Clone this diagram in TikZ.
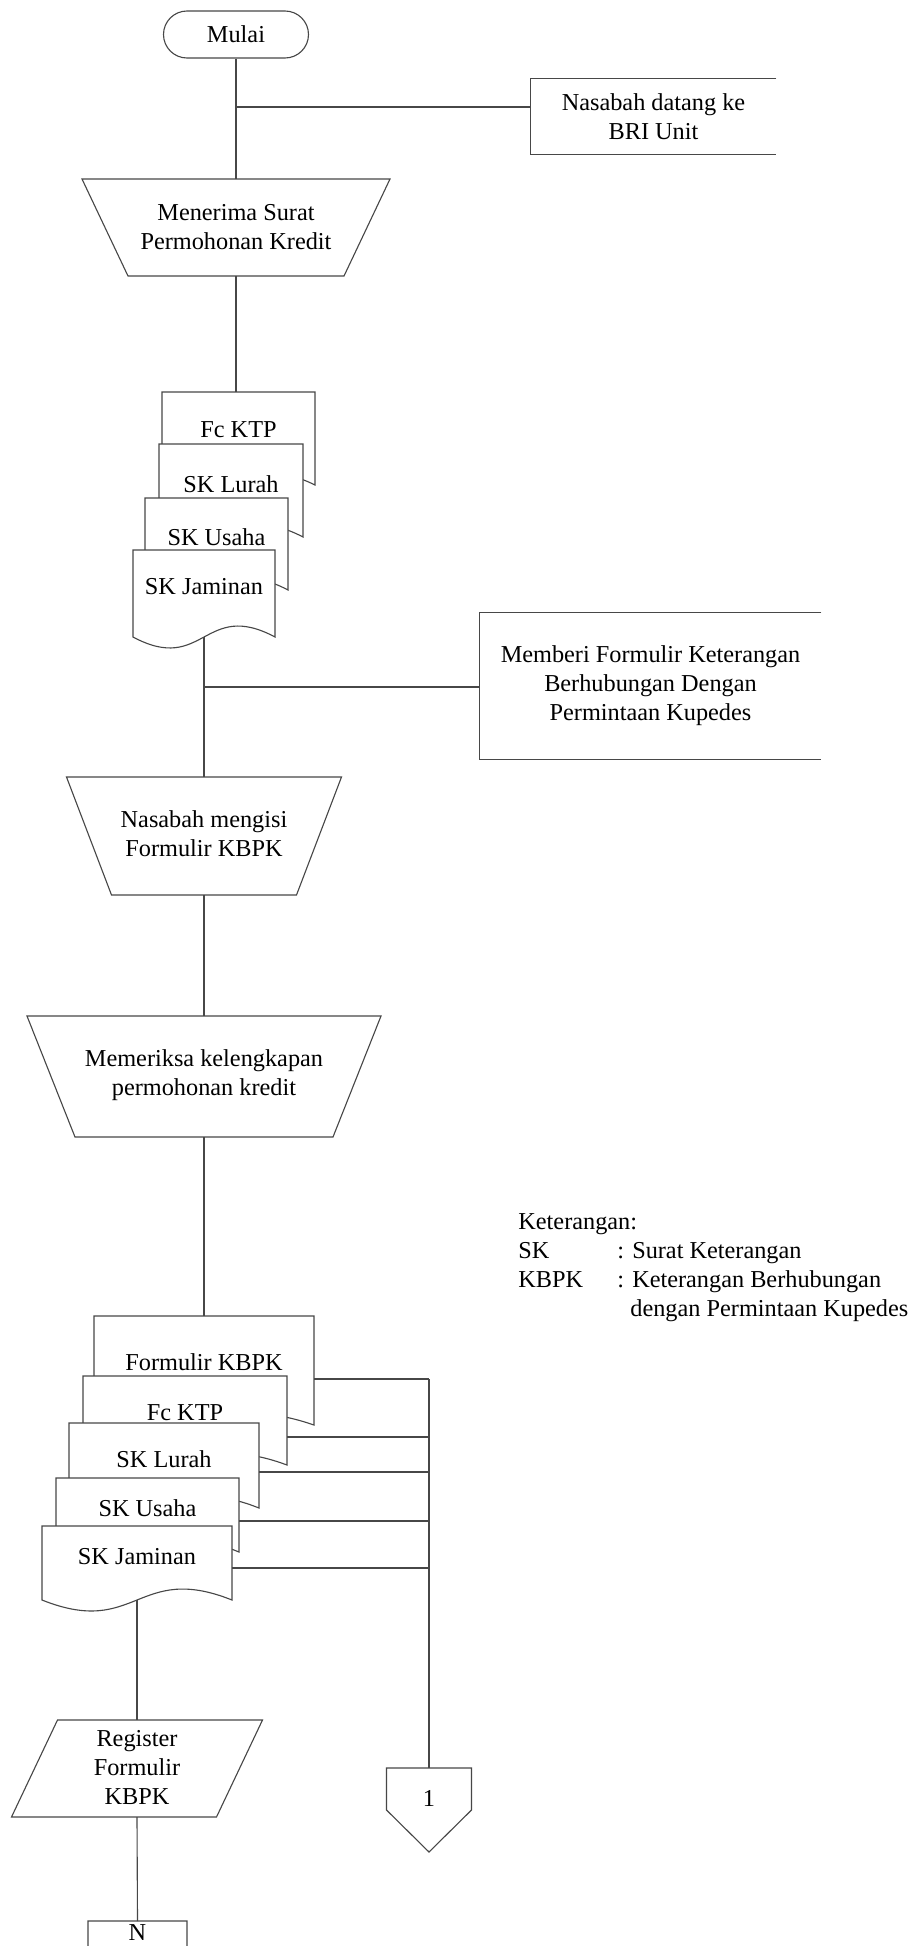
\documentclass[tikz,border=0pt]{standalone}
\usepackage{fontspec}
\setmainfont{Liberation Serif}
\usetikzlibrary{calc,shapes.misc}

% document symbol with a wavy lower edge; #1 name, #2 left, #3 right,
% #4 top, #5 bottom corners, #6 label height, #7 label
\newcommand\docsheet[7]{%
  \path[docln] (#2,#4) -- (#3,#4) -- (#3,#5)
    .. controls ({(#2+#3)/2},{#5-38}) and ({(#2+#3)/2},{#5+38}) .. (#2,#5) -- cycle;
  \node[lbl] (#1) at ({(#2+#3)/2},#6) {#7};
  \coordinate (#1-top) at ({(#2+#3)/2},#4);
  \coordinate (#1-bot) at ({(#2+#3)/2},#5);
  \coordinate (#1-ne) at (#3,#4);
}

\begin{document}
\begin{tikzpicture}[x=0.494pt, y=-0.494pt,
  ln/.style={line width=0.55pt, draw=black!72},
  docln/.style={ln, fill=white},
  lbl/.style={font=\fontsize{12}{14.3}\selectfont, align=center, inner sep=0pt},
  annot/.style={lbl},
]
\useasboundingbox[fill=white] (0,0) rectangle (919,1946);

% --- start and first annotation
\node[docln, lbl, rounded rectangle, minimum width=145*0.494pt,
      minimum height=47*0.494pt] (mulai) at (236,34.5) {Mulai};
\node[annot, minimum width=245*0.494pt, minimum height=75*0.494pt]
      (nasabah) at (653.5,116.5) {Nasabah datang ke\\BRI Unit};
\draw[ln] (nasabah.north east) -- (nasabah.north west)
          -- (nasabah.south west) -- (nasabah.south east);

% --- manual operation: receiving the application
\draw[docln] (82,179) -- (390,179) -- (344,276) -- (128,276) -- cycle;
\node[lbl] (terima) at (236,227.5) {Menerima Surat\\Permohonan Kredit};
\coordinate (t1top) at (236,179);
\coordinate (t1bot) at (236,276);
\coordinate (j1) at (236,107);

% --- first stack of documents
\docsheet{da}{162}{315}{392}{485}{430}{Fc KTP}
\docsheet{db}{159}{303}{444}{537}{484}{SK Lurah}
\docsheet{dc}{145}{288}{498}{590}{537}{SK Usaha}
\docsheet{dd}{133}{275}{550}{637}{587}{SK Jaminan}

% --- second annotation
\node[annot, minimum width=341*0.494pt, minimum height=146*0.494pt]
      (memberi) at (650.5,686)
      {Memberi Formulir Keterangan\\Berhubungan Dengan\\Permintaan Kupedes};
\draw[ln] (memberi.north east) -- (memberi.north west)
          -- (memberi.south west) -- (memberi.south east);
\coordinate (j2) at (204,687);

% --- manual operation: customer fills in the form
\draw[docln] (66.5,777) -- (341.5,777) -- (296.5,895) -- (111.5,895) -- cycle;
\node[lbl] (isi) at (204,834) {Nasabah mengisi\\Formulir KBPK};
\coordinate (t2top) at (204,777);
\coordinate (t2bot) at (204,895);

% --- manual operation: checking completeness
\draw[docln] (27,1016) -- (381,1016) -- (333,1137) -- (75,1137) -- cycle;
\node[lbl] (periksa) at (204,1075) {Memeriksa kelengkapan\\permohonan kredit};
\coordinate (t3top) at (204,1016);
\coordinate (t3bot) at (204,1137);

% --- second stack of documents
\docsheet{ea}{94}{314}{1316}{1425}{1362}{Formulir KBPK}
\docsheet{eb}{83}{287}{1376}{1465}{1413}{Fc KTP}
\docsheet{ec}{69}{259}{1423}{1508}{1459}{SK Lurah}
\docsheet{ed}{56}{239}{1478}{1552}{1508}{SK Usaha}
\docsheet{ee}{42}{232}{1526}{1600}{1557}{SK Jaminan}

% --- register (input/output)
\draw[docln] (57.5,1720) -- (262.5,1720) -- (216.5,1817) -- (11.5,1817) -- cycle;
\node[lbl] (register) at (137,1767.5) {Register\\Formulir\\KBPK};
\coordinate (regtop) at (137,1720);
\coordinate (regbot) at (137,1817);

% --- off-page connector 1
\draw[docln] (386.5,1768) -- (471.5,1768) -- (471.5,1810) -- (429,1852)
             -- (386.5,1810) -- cycle;
\node[lbl] (conn1) at (429,1798) {1};
\coordinate (c1top) at (429,1768);

% --- off-page connector N, running past the lower edge
\begin{scope}
  \clip (0,0) rectangle (919,1946);
  \draw[docln] (88,1921) -- (187,1921) -- (187,1970) -- (137.5,2019)
               -- (88,1970) -- cycle;
  \node[lbl] (connN) at (137.5,1933) {N};
  \coordinate (ntop) at (137.5,1921);
\end{scope}

% --- collector of the second stack
\coordinate (k1) at (429,1379);
\coordinate (k2) at (429,1437);
\coordinate (k3) at (429,1472);
\coordinate (k4) at (429,1521);
\coordinate (k5) at (429,1568);

% --- flow lines
\draw[ln] (mulai.south) -- (t1top);
\draw[ln] (j1) -- (nasabah.west |- j1);
\draw[ln] (t1bot) -- (t1bot |- da-top);
\draw[ln] (dd-bot) -- (t2top);
\draw[ln] (j2) -- (memberi.west |- j2);
\draw[ln] (t2bot) -- (t3top);
\draw[ln] (t3bot) -- (ea-top);
\draw[ln] (ee-bot) -- (regtop);
\draw[ln] (regbot) -- (ntop);
\draw[ln] (ea-ne |- k1) -- (k1);
\draw[ln] (eb-ne |- k2) -- (k2);
\draw[ln] (ec-ne |- k3) -- (k3);
\draw[ln] (ed-ne |- k4) -- (k4);
\draw[ln] (ee-ne |- k5) -- (k5);
\draw[ln] (k1) -- (c1top);

% --- legend
\node[lbl, anchor=base west] (leg)    at (518,1229) {Keterangan:};
\node[lbl, anchor=base west] (legsk)  at (518,1258) {SK};
\node[lbl, anchor=base west] (legskd) at (617,1258) {: Surat Keterangan};
\node[lbl, anchor=base west] (legkb)  at (518,1287) {KBPK};
\node[lbl, anchor=base west] (legkbd) at (617,1287) {: Keterangan Berhubungan};
\node[lbl, anchor=base west] (legkbe) at (630,1316) {dengan Permintaan Kupedes};
\end{tikzpicture}
\end{document}
